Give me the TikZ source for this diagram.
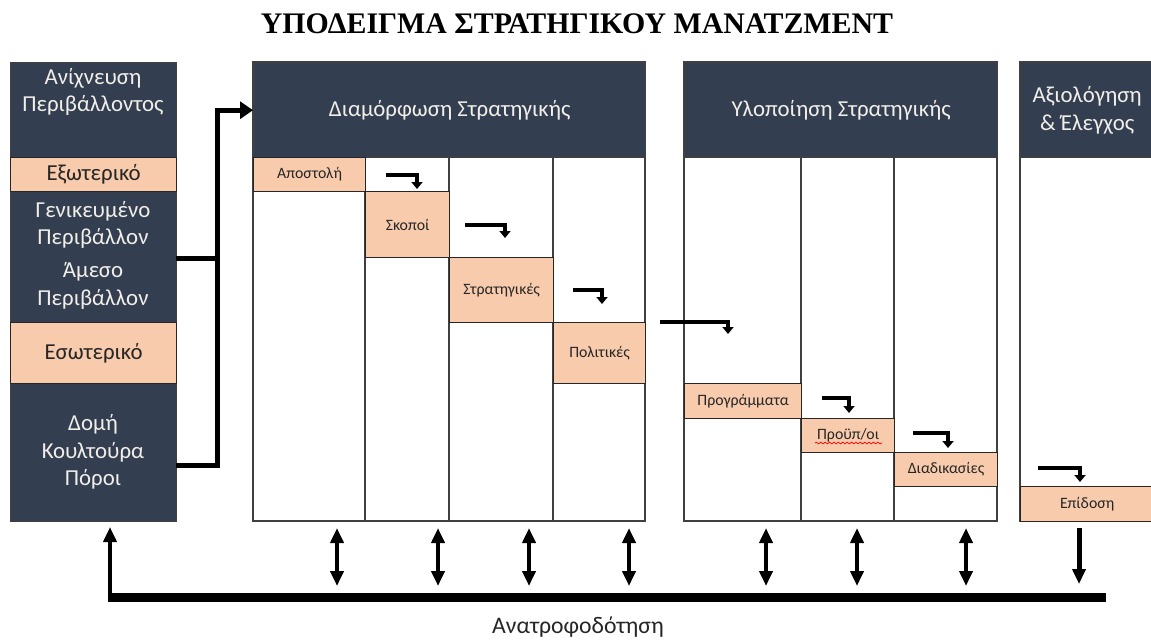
\documentclass[tikz,border=0pt]{standalone}
\usepackage{fontspec}
\setmainfont{Carlito}
\newfontfamily\titlefont{Liberation Serif}
\usetikzlibrary{arrows.meta,positioning,decorations.pathmorphing}

\definecolor{navy}{HTML}{333F50}
\definecolor{peach}{HTML}{F8CBAD}
\definecolor{lighttxt}{HTML}{F2EEE9}
\definecolor{darktxt}{HTML}{262626}

\tikzset{
  px/.style={x=0.02cm,y=-0.02cm},
  box/.style 2 args={minimum width=#1*0.02cm, minimum height=#2*0.02cm},
  frame/.style={draw=black!75, line width=0.8pt},
  head/.style={frame, fill=navy, text=lighttxt, anchor=north west, inner sep=0pt,
    align=center, font=\fontsize{13}{15.6}\selectfont},
  band/.style={draw=black!85, line width=0.7pt, fill=peach, text=darktxt,
    anchor=north west, inner sep=0pt, font=\fontsize{9}{11}\selectfont},
  sidetxt/.style={text=lighttxt, align=center, font=\fontsize{13}{15.6}\selectfont},
  turn/.style={line width=0.08cm, line join=miter, -{Triangle[length=0.14cm,width=0.22cm]}},
  both/.style={line width=0.08cm,
    {Triangle[length=0.3cm,width=0.26cm]}-{Triangle[length=0.3cm,width=0.26cm]}},
  feed/.style={line width=0.1cm, line join=miter, -{Triangle[length=0.26cm,width=0.34cm]}},
}

\begin{document}
\begin{tikzpicture}[px]
\useasboundingbox (0,0) rectangle (1151,640);

\node[font=\titlefont\bfseries\fontsize{17}{20}\selectfont] (title) at (577,24)
  {ΥΠΟΔΕΙΓΜΑ ΣΤΡΑΤΗΓΙΚΟΥ ΜΑΝΑΤΖΜΕΝΤ};

% environmental scanning
\node[head, box={166}{459}] (scan) at (10,62) {};
\node[band, box={166}{34}, font=\fontsize{13}{15.6}\selectfont] (ext) at (10,157) {Εξωτερικό};
\node[band, box={166}{61}, font=\fontsize{13}{15.6}\selectfont] (int) at (10,322) {Εσωτερικό};
\node[sidetxt] (scantitle) at (93,92) {Ανίχνευση\\Περιβάλλοντος};
\node[sidetxt] (gen) at (93,225) {Γενικευμένο\\Περιβάλλον};
\node[sidetxt] (near) at (93,286) {Άμεσο\\Περιβάλλον};
\node[sidetxt] (res) at (93,452) {Δομή\\Κουλτούρα\\Πόροι};

% strategy formulation
\draw[frame, fill=white] (253,62) rectangle (645,521);
\foreach \x in {365,449,553}{
  \draw[frame] (\x,157) -- (\x,521);
}
\node[head, box={392}{95}] (form) at (253,62) {Διαμόρφωση Στρατηγικής};
\node[band, box={112}{34}] (mission) at (253,157) {Αποστολή};
\node[band, box={84}{66}] (goals) at (365,191) {Σκοποί};
\node[band, box={104}{65}] (strat) at (449,257) {Στρατηγικές};
\node[band, box={92}{61}] (policy) at (553,322) {Πολιτικές};

% strategy implementation
\draw[frame, fill=white] (684,62) rectangle (997,521);
\foreach \x in {801,894}{
  \draw[frame] (\x,157) -- (\x,521);
}
\node[head, box={313}{95}] (impl) at (684,62) {Υλοποίηση Στρατηγικής};
\node[band, box={117}{35}] (prog) at (684,383) {Προγράμματα};
\node[band, box={93}{34}] (budget) at (801,418) {Προϋπ/οι};
\draw[red, line width=0.4pt, decorate, decoration={snake, amplitude=0.5pt, segment length=2.5pt}]
  (815,443) -- (882,443);
\node[band, box={103}{34}] (proc) at (894,452) {Διαδικασίες};

% evaluation and control
\draw[frame, fill=white] (1020,62) rectangle (1153,521);
\node[head, box={133}{95}] (eval) at (1020,62) {Αξιολόγηση\\\& Έλεγχος};
\node[band, box={133}{35}] (perf) at (1020,486) {Επίδοση};

% scanning feeds formulation
\coordinate (envout) at (176,258);
\coordinate (resout) at (176,465);
\draw[line width=0.1cm] (envout) -- ++(41,0);
\draw[feed] (resout) -- ++(41,0) |- (form.west);

% steps
\foreach \xa/\xb/\ya/\yb in {386/417/175/189, 465/505/225/238, 573/602/290/304,
    660/728/322/334, 822/849/398/413, 913/948/433/448, 1038/1080/468/482}{
  \draw[turn] (\xa,\ya) -| (\xb,\yb);
}

% feedback
\foreach \x in {337,438,529,629,766,857,966}{
  \draw[both] (\x,528) -- (\x,586);
}
\draw[line width=0.1cm, -{Triangle[length=0.3cm,width=0.26cm]}] (1079,528) -- (1079,584);
\coordinate (fbleft) at (110,597);
\coordinate (fbright) at (1106,597);
\draw[line width=0.18cm] ([xshift=-0.05cm]fbleft) -- (fbright);
\draw[line width=0.08cm, -{Triangle[length=0.3cm,width=0.26cm]}] ([yshift=-0.09cm]fbleft) -- (110,527);
\node[font=\fontsize{13.5}{16}\selectfont, text=darktxt] (fbtxt) at (578,627) {Ανατροφοδότηση};
\end{tikzpicture}
\end{document}
